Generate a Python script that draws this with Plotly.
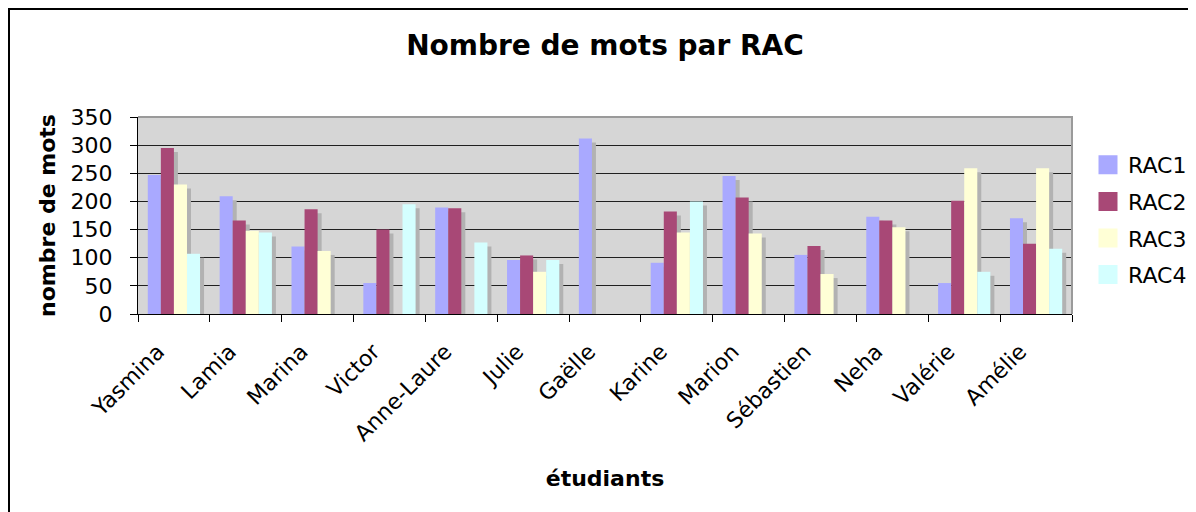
import plotly.graph_objects as go

students = ["Yasmina", "Lamia", "Marina", "Victor", "Anne-Laure", "Julie", "Gaëlle",
            "Karine", "Marion", "Sébastien", "Neha", "Valérie", "Amélie"]
rac1 = [247, 209, 120, 55, 189, 96, 312, 91, 245, 105, 173, 55, 170]
rac2 = [295, 166, 186, 150, 188, 104, 0, 182, 207, 121, 166, 201, 125]
rac3 = [230, 148, 112, 0, 0, 75, 0, 145, 143, 71, 154, 259, 259]
rac4 = [107, 145, 0, 195, 127, 96, 0, 200, 0, 0, 0, 75, 116]
series_names = ["RAC1", "RAC2", "RAC3", "RAC4"]
series_values = [rac1, rac2, rac3, rac4]
colors = ["#A9A9FF", "#A84876", "#FFFFD6", "#D4FFFF"]
y_ticks = [0, 50, 100, 150, 200, 250, 300, 350]

FONT = "DejaVu Sans"
W, H = 1196, 512
OFF = 8  # page body offset
ML, MT = 138 - OFF, 117 - OFF
PR, PB = 1072 - OFF, 314 - OFF   # right / bottom of plot area (figure px)
MR, MB = W - PR, H - PB
pw = PR - ML
ph = PB - MT

bw = 2 / 11.0          # bar width (Excel gap width 150%)
start = -2 * bw
sh_dx = 4.0 / (pw / len(students))   # shadow offset, 4 px to the right
sh_dy = 4.0 * 350 / ph               # shadow offset, 4 px down

fig = go.Figure()
# shadows
for i, vals in enumerate(series_values):
    fig.add_trace(go.Bar(
        x=students, y=vals, base=-sh_dy, width=bw, offset=start + i * bw + sh_dx,
        marker=dict(color="#B2B2B2", line=dict(width=0)),
        showlegend=False, hoverinfo="skip"))
# bars
for i, (name, vals) in enumerate(zip(series_names, series_values)):
    fig.add_trace(go.Bar(
        x=students, y=vals, name=name, width=bw, offset=start + i * bw,
        marker=dict(color=colors[i], line=dict(width=0)),
        legendgroup=name, showlegend=False))
# legend keys (square swatches)
for i, name in enumerate(series_names):
    fig.add_trace(go.Scatter(
        x=[None], y=[None], mode="markers", name=name, legendgroup=name,
        marker=dict(symbol="square", size=16, color=colors[i],
                    line=dict(color=colors[i], width=3))))

fig.update_layout(
    width=W, height=H,
    barmode="overlay",
    margin=dict(l=ML, r=MR, t=MT, b=MB, autoexpand=False),
    paper_bgcolor="white",
    plot_bgcolor="#D6D6D6",
    font=dict(family=FONT, color="black", size=22),
    title=dict(text="<b>Nombre de mots par RAC</b>", x=0.5, xref="paper",
               xanchor="center", y=1 - (45 - OFF) / H, yanchor="middle",
               font=dict(size=28, family=FONT)),
    showlegend=True,
    legend=dict(x=(1080 - ML) / pw, xanchor="left", y=(PB - 136) / ph,
                yanchor="top", font=dict(size=22, family=FONT),
                tracegroupgap=5, bgcolor="rgba(0,0,0,0)", itemwidth=30),
    xaxis=dict(
        type="category", tickangle=-45, tickson="boundaries",
        ticks="outside", ticklen=7, tickcolor="black", tickwidth=1,
        showline=True, linecolor="black", linewidth=1, showgrid=False,
        tickfont=dict(size=22, family=FONT), ticklabelstandoff=15,
        ticklabelshift=-16,
        automargin=False,
        title=dict(text="<b>étudiants</b>", font=dict(size=22, family=FONT), standoff=25),
        range=[-0.5, len(students) - 0.5],
    ),
    yaxis=dict(
        range=[0, 350], tickvals=y_ticks, ticks="outside", ticklen=7,
        tickcolor="black", tickwidth=1, showline=True, linecolor="black", linewidth=1,
        showgrid=True, gridcolor="#202020", gridwidth=1, zeroline=False,
        tickfont=dict(size=22, family=FONT), ticklabelstandoff=13,
        automargin=False,
        title=dict(text="<b>nombre de mots</b>", font=dict(size=22, family=FONT), standoff=8),
    ),
    shapes=[
        # plot area top/right border
        dict(type="path", xref="paper", yref="paper",
             path="M 0,1 L 1,1 L 1,0", line=dict(color="#9A9A9A", width=2), layer="above"),
        # outer chart frame
        dict(type="rect", xref="paper", yref="paper",
             x0=(1 - ML) / pw, x1=(W + 40 - ML) / pw,
             y0=-(MB + 40) / ph, y1=(ph + MT - 1) / ph,
             line=dict(color="black", width=2), layer="above"),
    ],
)

fig.write_html("out.html")
